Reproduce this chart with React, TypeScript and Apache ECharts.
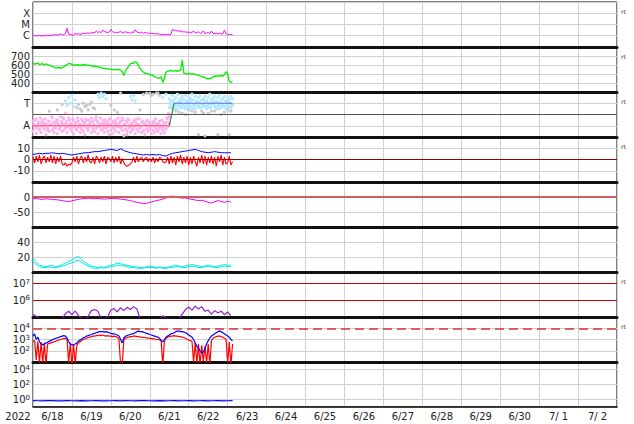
import React, { useEffect, useRef } from "react";
import * as echarts from "echarts";

// ---------- axis text ----------
const DAY_LABELS = ["6/18", "6/19", "6/20", "6/21", "6/22", "6/23", "6/24", "6/25", "6/26", "6/27", "6/28", "6/29", "6/30", "7/ 1", "7/ 2"];
const YEAR_LABEL = "2022";
const TOTAL_HOURS = 360; // 2022-06-18 00UT .. 2022-07-03 00UT
const RT_PANELS = [0, 1, 2, 3, 6, 7];

// ---------- data (hours since 2022-06-18 00UT) ----------
// X-ray flux, hourly, in units of 1e-6 W/m2 (C1 = 1)
const xrayC = [1.0, 1.05, 0.95, 1.0, 1.1, 0.95, 1.0, 0.95, 1.15, 1.0, 1.1, 0.98, 1.25, 1.05, 1.35, 1.1, 1.25, 1.5, 1.25, 1.2, 1.6, 4.5, 1.4, 1.25, 1.2, 1.05, 1.7, 1.35, 1.55, 1.3, 1.45, 1.7, 1.45, 1.8, 1.55, 1.9, 1.65, 2.1, 1.75, 2.7, 1.95, 2.3, 1.85, 3.1, 2.4, 2.15, 1.85, 2.1, 3.6, 2.3, 2.05, 1.85, 1.9, 2.05, 2.5, 1.85, 1.9, 2.4, 1.85, 1.9, 1.65, 2.2, 1.85, 3.4, 2.1, 1.95, 1.75, 2.1, 1.65, 1.95, 1.75, 1.65, 1.75, 1.55, 1.6, 1.5, 1.45, 1.55, 1.3, 1.25, 1.35, 1.2, 1.25, 1.3, 1.2, 1.35, 3.9, 2.7, 3.1, 2.5, 2.8, 2.25, 2.6, 2.05, 2.3, 1.95, 2.2, 1.75, 2.1, 2.5, 1.85, 1.9, 2.3, 1.65, 1.85, 2.7, 1.65, 1.7, 2.0, 1.55, 2.6, 1.65, 1.55, 1.7, 1.45, 1.65, 1.4, 1.55, 3.1, 1.55, 1.3, 1.2, 1.35, 1.2];
// Solar wind speed km/s, hourly
const windSpeed = [619, 608, 618, 622, 606, 610, 614, 600, 612, 604, 598, 592, 582, 578, 566, 570, 574, 562, 572, 578, 594, 602, 618, 616, 606, 598, 602, 600, 604, 592, 604, 596, 607, 594, 601, 592, 592, 582, 590, 578, 585, 572, 572, 562, 562, 558, 560, 552, 557, 548, 552, 550, 546, 552, 542, 528, 482, 532, 562, 588, 612, 622, 618, 638, 628, 598, 562, 538, 522, 508, 506, 498, 497, 488, 482, 468, 464, 455, 457, 468, 405, 452, 522, 528, 538, 536, 532, 533, 540, 528, 537, 538, 655, 508, 507, 498, 507, 498, 500, 500, 497, 488, 487, 478, 472, 462, 462, 447, 447, 448, 457, 468, 477, 475, 482, 474, 484, 476, 492, 525, 500, 415, 410, 412];
// IMF sector: hourly scatter (A = -1 side, T = +1 side)
const sectorAwayA = [-0.6, -1.1, -0.4, -0.9, -1.3, -0.7, -0.5, -1.0, -0.8, -1.4, -0.6, -0.9, -0.3, -1.2, -0.7, -0.5, -1.0, -0.2, -0.8, -0.4, 0.1, -0.6, -0.3, -0.9, -1.1, -0.5, -0.8, -1.3, -0.6, -0.9, -0.4, -1.0, -0.7, -0.5, -1.2, -0.8, -0.3, -0.6, -1.0, -0.2, -0.7, -0.9, -1.4, -0.5, -0.8, -0.6, -1.1, -0.4, -0.9, -0.7, -1.2, -0.5, -0.8, -1.0, -0.6, -0.3, -0.9, -1.3, -0.7, -0.5, -1.1, -0.8, -0.6, -1.0, -0.4, -0.9, -1.2, -0.7, -1.5, -0.8, -0.6, -1.0, -1.3, -0.9, -0.7, -1.1, -0.8, -1.4, -0.6, -1.0, -1.2, -0.9, -0.7, -0.4, -0.2];
const sectorAwayB = [-1.5, -1.2, -1.7, -1.0, -1.4, -1.6, -1.1, -1.3, -1.8, -1.2, -1.5, -1.0, -1.4, -1.6, -1.2, -1.7, -1.3, -1.1, -1.5, -1.4, -1.2, -1.6, -1.0, -1.3, -1.5, -1.7, -1.2, -1.4, -1.1, -1.6, -1.3, -1.5, -1.8, -1.2, -1.4, -1.0, -1.6, -1.3, -1.5, -1.2, -1.7, -1.1, -1.4, -1.3, -1.6, -1.2, -1.5, -1.0, -1.4, -1.7, -1.3, -1.5, -1.1, -1.6, -1.2, -1.4, -1.8, -1.3, -1.5, -1.2, -1.6, -1.4, -1.1, -1.7, -1.3, -1.5, -1.2, -1.6, -1.4, -1.8, -1.3, -1.5, -1.2, -1.7, -1.4, -1.6, -1.3, -1.5, -1.2, -1.7, -1.4, -1.6, -1.3, -1.1, -0.8];
const sectorAwayC = [-0.9, -0.5, -1.2, -0.7, -0.3, -1.0, -0.8, -0.4, -1.1, -0.6, -0.9, -0.2, -0.7, -1.0, -0.5, -0.8, -1.3, -0.6, -0.3, -0.9, -0.7, -1.1, -0.5, -0.8, -0.4, -1.0, -0.7, -0.3, -0.9, -1.2, -0.6, -0.8, -0.4, -1.0, -0.5, -0.7, -1.1, -0.9, -0.4, -0.6, -1.0, -0.3, -0.8, -1.2, -0.5, -0.9, -0.7, -0.4, -1.1, -0.6, -0.8, -1.0, -0.3, -0.7, -1.2, -0.5, -0.9, -0.6, -0.4, -1.0, -0.8, -1.3, -0.5, -0.7, -0.9, -0.4, -1.1, -0.6, -0.8, -1.0, -0.5, -0.7, -1.2, -0.9, -0.6, -0.4, -1.0, -0.8, -1.1, -0.5, -0.7, -0.9, -0.3, 0.1];
const towardStartHour = 84;
const sectorTowardA = [0.6, 0.9, 0.5, 1.0, 0.7, 0.4, 0.8, 1.1, 0.6, 0.9, 0.5, 0.8, 1.0, 0.6, 0.7, 0.9, 0.5, 1.1, 0.8, 0.6, 0.9, 0.7, 1.0, 0.5, 0.8, 0.6, 0.9, 1.1, 0.7, 0.5, 0.8, 1.0, 0.6, 0.9, 0.7, 0.5, 0.8, 1.0, 0.6, 0.8];
const sectorTowardB = [1.4, 1.2, 1.7, 1.3, 1.5, 1.8, 1.2, 1.4, 1.6, 1.3, 1.7, 1.2, 1.5, 1.4, 1.8, 1.3, 1.6, 1.2, 1.5, 1.7, 1.3, 1.4, 1.6, 1.2, 1.5, 1.8, 1.3, 1.4, 1.6, 1.2, 1.5, 1.7, 1.3, 1.4, 1.6, 1.2, 1.5, 1.3, 1.6, 1.4];
const sectorTowardC = [1.0, 0.7, 1.2, 0.5, 0.9, 1.1, 0.6, 0.8, 1.3, 0.7, 1.0, 0.6, 0.9, 1.2, 0.5, 0.8, 1.0, 0.7, 1.1, 0.6, 0.9, 1.3, 0.7, 0.8, 1.0, 0.6, 1.2, 0.9, 0.7, 1.1, 0.5, 0.8, 1.0, 0.7, 1.2, 0.9, 0.6, 1.0, 0.8];
const sectorTowardEarly = [[20, 1.2], [21, 0.8], [22, 1.5], [23, 1.0], [24, 1.7], [25, 0.7], [26, 1.3], [40, 1.8], [41, 1.5], [42, 1.9], [43, 1.6], [44, 1.8], [45, 1.4], [60, 1.6], [61, 1.3], [62, 1.7], [63, 1.2], [80, 1.5], [82, 1.8]];
const sectorOther = [[10, 0.3], [15, 0.4], [18, 0.9], [27, 0.6], [28, 0.9], [29, 0.5], [30, 0.3], [31, 1.0], [32, 0.7], [33, 0.8], [34, 0.4], [35, 0.9], [36, 1.1], [37, 0.6], [38, 0.5], [47, -1.8], [48, 0.8], [50, 0.4], [52, 0.2], [54, 1.9], [56, -1.9], [58, -1.8], [66, 0.4], [68, 1.8], [70, 1.9], [72, 1.9], [73, 1.7], [74, 1.8], [76, 1.9], [77, 1.9], [78, 1.7], [88, 0.3], [90, 0.2], [92, 0.1], [94, 0.0], [96, 0.4], [98, 0.3], [100, 0.2], [102, -1.8], [104, 0.3], [105, 0.1], [106, -1.9], [108, 0.1], [110, 0.3], [112, 0.3], [114, -1.8], [116, 0.0], [118, 0.2], [120, 0.4], [121, -1.8], [122, 0.3]];
const sectorAwayLine = [[0, -1], [84, -1]];
const sectorShiftLine = [[84, -1], [87, 1]];
const sectorTowardLine = [[87, 1], [123, 1]];
// IMF |B| (2-hourly) and Bz (hourly), nT
const imfBt = [4.5, 5, 5.5, 5, 5.5, 5.5, 6, 5.5, 5, 5.5, 5, 4.5, 4, 4.5, 5, 5.5, 6, 6, 6.5, 7, 7, 7.5, 8, 8.5, 9, 8.5, 8, 9.5, 8, 7, 6, 5.5, 5, 4.5, 4, 4.5, 4, 4.5, 4, 4.5, 3.5, 3, 4.5, 5.5, 6, 6.5, 7, 7.5, 8, 8.5, 9, 8, 7, 6.5, 6, 6.5, 7, 6.5, 6, 6, 6, 6];
const imfBz = [2, -3, 3, -2, 4, -4, 1, 3, -3, 2, -2, 4, -3, 3, -4, 2, -2, 3, -4, -5, -3, -6, -4, -5, -3, 2, -2, 3, -4, 1, 3, -3, 2, -2, 4, -2, -3, 2, -4, 3, 1, -3, 2, -2, 3, -4, 2, 1, -2, 3, -3, 2, -2, 3, -4, 1, -3, -5, -6, -5, -4, -2, 2, -3, 3, -2, 1, 2, -2, 1, 2, -2, 1, -2, 2, -3, 1, -2, 2, 1, -2, -3, -2, 2, -4, 3, -3, 2, -5, 3, -2, 4, -4, 2, -3, 3, -5, 2, -4, 3, -2, -6, 2, -3, 4, -4, 3, -5, 2, -3, 3, -4, 2, -6, 3, -2, 4, -5, 2, -4, -3, 3, -5, -2];
// Dst index (2-hourly), nT
const dst = [-6, -5, -7, -8, -6, -7, -8, -9, -10, -12, -14, -15, -13, -10, -8, -6, -5, -4, -5, -6, -5, -6, -7, -6, -5, -4, -6, -7, -8, -10, -12, -15, -18, -20, -22, -21, -18, -15, -12, -10, -7, -3, 2, 3, -1, -2, -4, -3, -6, -8, -10, -12, -11, -14, -18, -20, -16, -12, -15, -18, -14, -17];
// Panel 6 two cyan traces (2-hourly)
const cyanA = [18, 14, 9, 8, 7, 8, 9, 7, 8, 10, 12, 14, 16, 19, 21, 17, 13, 10, 8, 7, 6, 7, 6, 8, 9, 10, 12, 11, 10, 9, 8, 7, 7, 6, 6, 7, 8, 7, 6, 7, 6, 6, 7, 8, 9, 8, 7, 8, 9, 10, 9, 8, 7, 8, 9, 8, 7, 8, 9, 10, 9, 9];
const cyanB = [14, 10, 7, 6, 6, 7, 6, 6, 7, 8, 9, 11, 12, 14, 16, 13, 10, 8, 6, 5, 5, 6, 5, 6, 7, 8, 9, 9, 8, 7, 6, 6, 5, 5, 5, 6, 6, 6, 5, 6, 5, 5, 6, 6, 7, 7, 6, 6, 7, 8, 7, 6, 6, 7, 7, 7, 6, 6, 7, 8, 7, 7];
// Electron fluence (2-hourly)
const electronFluence = [1.4e5, 1.1e5, 0.8e5, 0.8e5, 0.8e5, 0.8e5, 0.8e5, 0.8e5, 0.8e5, 0.8e5, 1.6e5, 2.2e5, 1.4e5, 2.3e5, 1.2e5, 0.9e5, 0.8e5, 1.1e5, 2.4e5, 2.8e5, 2.2e5, 0.8e5, 0.8e5, 1.0e5, 2.6e5, 3.2e5, 2.0e5, 3.6e5, 2.4e5, 3.8e5, 2.8e5, 4.2e5, 3.0e5, 0.8e5, 0.8e5, 0.8e5, 0.8e5, 0.8e5, 0.8e5, 0.8e5, 1.2e5, 0.9e5, 0.8e5, 0.8e5, 0.8e5, 0.8e5, 1.5e5, 2.8e5, 4.0e5, 2.6e5, 4.5e5, 3.0e5, 4.2e5, 2.2e5, 2.6e5, 1.5e5, 2.4e5, 1.8e5, 2.2e5, 1.4e5, 2.0e5, 1.2e5];
// Electron flux, two satellites (hourly)
const electronBlue = [2000, 3200, 1000, 1600, 630, 400, 350, 400, 500, 560, 710, 790, 1000, 1100, 1300, 1400, 1600, 1800, 2000, 2200, 2000, 1300, 630, 400, 320, 350, 400, 500, 710, 890, 1100, 1400, 1600, 2000, 2200, 2500, 2800, 3200, 3500, 4000, 4500, 5000, 5000, 5000, 4500, 5000, 4500, 4000, 3500, 3200, 3200, 2800, 2500, 2000, 1000, 500, 1300, 2000, 2200, 2500, 2800, 3200, 3200, 4000, 5000, 5600, 5000, 5000, 4500, 4000, 3500, 3200, 2800, 2500, 2200, 2000, 1800, 1600, 1300, 790, 630, 1000, 1600, 2000, 2500, 3200, 3500, 4000, 5000, 5600, 5600, 5000, 5000, 4500, 4000, 3200, 2500, 2000, 1600, 1000, 500, 250, 160, 100, 63, 79, 160, 400, 790, 1300, 2000, 2500, 3200, 4000, 5000, 5600, 5000, 4000, 3200, 2500, 2000, 1600, 1000, 790];
const electronRed = [630, 800, 15, 700, 8, 600, 8, 500, 5, 400, 450, 500, 560, 630, 700, 800, 900, 1000, 1100, 1200, 1300, 1000, 8, 500, 5, 400, 6, 300, 500, 630, 800, 1000, 1100, 1300, 1500, 1600, 1800, 2000, 2000, 2200, 2200, 2500, 2200, 2500, 2200, 2000, 2200, 2000, 2000, 1800, 2000, 1800, 1600, 1000, 6, 5, 1000, 1300, 1500, 1600, 1800, 1800, 2000, 2000, 1800, 1800, 1600, 1600, 1500, 1500, 1400, 1300, 1300, 1200, 1200, 1100, 1000, 1000, 900, 800, 5, 800, 1300, 1600, 1800, 2000, 2000, 2200, 2000, 2000, 1800, 1800, 1600, 1500, 1300, 1000, 900, 800, 700, 10, 500, 8, 400, 6, 300, 12, 250, 8, 400, 6, 800, 1300, 1600, 1800, 2000, 2000, 1800, 1600, 1300, 1000, 8, 600, 5, 400];
// Proton flux (3-hourly)
const protonFlux = [0.7, 0.68, 0.65, 0.7, 0.72, 0.66, 0.64, 0.7, 0.68, 0.66, 0.7, 0.65, 0.68, 0.7, 0.66, 0.64, 0.68, 0.7, 0.66, 0.7, 0.68, 0.65, 0.7, 0.72, 0.68, 0.66, 0.7, 0.65, 0.68, 0.7, 0.66, 0.68, 0.7, 0.65, 0.68, 0.7, 0.66, 0.68, 0.7, 0.66, 0.68, 0.7];

// ---------- helpers ----------
const FONT = "DejaVu Sans";
const TXT = "#222";
const seq = (vals: number[], step: number, start = 0, scale = 1) => vals.map((v, i) => [start + i * step, v * scale]);

const powLabel = (v: number) => `{b|10}{s|${Math.round(Math.log10(v))}}`;
const RICH = {
  b: { fontSize: 10, fontFamily: FONT, color: TXT, lineHeight: 11 },
  s: { fontSize: 7, fontFamily: FONT, color: TXT, lineHeight: 6, verticalAlign: "top" },
};

function buildOption() {
  const N = 9;
  const grids = Array.from({ length: N }, (_, i) => ({
    left: 33, top: 2 + 45 * i, width: 584, height: 45,
    show: true, borderColor: "#000", borderWidth: 1, backgroundColor: "transparent",
  }));
  const xAxes: any[] = Array.from({ length: N }, (_, i) => ({
    type: "value", gridIndex: i, min: 0, max: TOTAL_HOURS, interval: 24,
    axisLabel: { show: false }, axisTick: { show: false },
    axisLine: { show: true, onZero: false, lineStyle: { color: "#111", width: i < N - 1 ? 3 : 1.5 } },
    splitLine: { show: true, lineStyle: { color: "#d0d0d0", width: 1 } },
  }));
  xAxes.push({
    type: "category", gridIndex: N - 1, data: DAY_LABELS, boundaryGap: true, position: "bottom",
    axisLine: { show: false }, axisTick: { show: false }, splitLine: { show: false },
    axisLabel: { interval: 0, fontFamily: FONT, fontSize: 10, color: TXT, margin: 4 },
  });
  const split = { show: true, lineStyle: { color: "#d0d0d0", width: 1 } };
  const lab = (formatter: any, extra: any = {}) => ({ fontFamily: FONT, fontSize: 10, color: TXT, margin: 3, lineHeight: 9, formatter, ...extra });
  const base = (i: number) => ({ gridIndex: i, axisLine: { show: false }, axisTick: { show: false }, splitLine: split });
  const yAxes: any[] = [
    { ...base(0), type: "log", logBase: 10, min: 1e-7, max: 1e-3,
      axisLabel: lab((v: number) => ({ "-6": "C", "-5": "M", "-4": "X" } as any)[String(Math.round(Math.log10(v)))] || "") },
    { ...base(1), type: "value", min: 300, max: 800, interval: 100,
      axisLabel: lab((v: number) => (v > 300 && v < 800 ? String(v) : "")) },
    { ...base(2), type: "value", min: -2, max: 2, interval: 1,
      axisLabel: lab((v: number) => (v === 1 ? "T" : v === -1 ? "A" : "")) },
    { ...base(3), type: "value", min: -20, max: 20, interval: 10,
      axisLabel: lab((v: number) => (Math.abs(v) < 20 ? String(v) : "")) },
    { ...base(4), type: "value", min: -100, max: 50, interval: 50,
      axisLabel: lab((v: number) => (v === 0 || v === -50 ? String(v) : "")) },
    { ...base(5), type: "value", min: 0, max: 60, interval: 20,
      axisLabel: lab((v: number) => (v === 20 || v === 40 ? String(v) : "")) },
    { ...base(6), type: "log", logBase: 10, min: 1e5, max: 5e7,
      axisLabel: lab((v: number) => { const e = Math.round(Math.log10(v)); return e === 6 || e === 7 ? powLabel(v) : ""; }, { rich: RICH }) },
    { ...base(7), type: "log", logBase: 10, min: 1e1, max: 1e5,
      axisLabel: lab((v: number) => { const e = Math.round(Math.log10(v)); return e >= 2 && e <= 4 ? powLabel(v) : ""; }, { rich: RICH }) },
    { ...base(8), type: "log", logBase: 10, min: 1e-1, max: 1e5, splitLine: { show: false }, axisLabel: { show: false } },
    // exponent-space companion axis for panel 9 grid lines / labels (every 2 decades)
    { ...base(8), type: "value", min: -1, max: 5, splitNumber: 3, position: "left",
      axisLabel: lab((e: number) => { const r = Math.round(e); return r === 0 || r === 2 || r === 4 ? `{b|10}{s|${r}}` : ""; }, { rich: RICH }) },
  ];

  const line = (xi: number, yi: number, data: any[], color: string, width = 1, extra: any = {}) => ({
    type: "line", xAxisIndex: xi, yAxisIndex: yi, data, showSymbol: false, symbol: "none",
    lineStyle: { color, width }, itemStyle: { color }, silent: true, ...extra,
  });
  const hline = (value: number, color: string, width: number, type: any = "solid") => ({
    silent: true, symbol: ["none", "none"], label: { show: false },
    lineStyle: { color, width, type }, data: [{ yAxis: value }],
  });
  const dots = (yi: number, data: any[], color: string, size = 3.2) => ({
    type: "scatter", xAxisIndex: yi, yAxisIndex: yi, data, symbolSize: size, silent: true,
    itemStyle: { color, opacity: 1 },
  });

  const series: any[] = [
    line(0, 0, seq(xrayC, 1, 0, 1e-6), "#ff00ff", 1),
    line(1, 1, seq(windSpeed, 1), "#00ee00", 1.3),
    dots(2, sectorOther, "#c8c8c8"),
    dots(2, seq(sectorAwayB, 1), "#ffb0ee"),
    dots(2, seq(sectorAwayA, 1), "#ffb0ee"),
    dots(2, seq(sectorAwayC, 1, 0.5), "#ffb0ee"),
    dots(2, sectorTowardEarly, "#b0e8ff"),
    dots(2, seq(sectorTowardA, 1, towardStartHour), "#b0e8ff"),
    dots(2, seq(sectorTowardB, 1, towardStartHour), "#b0e8ff"),
    dots(2, seq(sectorTowardC, 1, towardStartHour + 0.5), "#b0e8ff"),
    line(2, 2, sectorAwayLine, "#ff5050", 1.2, { markLine: hline(0, "#555", 1) }),
    line(2, 2, sectorShiftLine, "#3d8a3d", 1.2),
    line(2, 2, sectorTowardLine, "#6a6af0", 1.2),
    line(3, 3, seq(imfBz, 1), "#ff0000", 1.1, { markLine: hline(0, "#990000", 1) }),
    line(3, 3, seq(imfBt, 2), "#0000ff", 1),
    line(4, 4, seq(dst, 2), "#ee00ee", 1, { markLine: hline(0, "#cc6060", 2) }),
    line(5, 5, seq(cyanB, 2), "#00e8e8", 1),
    line(5, 5, seq(cyanA, 2), "#00e8e8", 1),
    line(6, 6, seq(electronFluence, 2), "#9922cc", 1.2, { markLine: { ...hline(1e7, "#cc0000", 1.2), data: [{ yAxis: 1e7 }, { yAxis: 1e6 }] } }),
    line(7, 7, seq(electronRed, 1), "#ff0000", 1.2, { markLine: hline(1e4, "#dd3333", 1.5, [9, 5]) }),
    line(7, 7, seq(electronBlue, 1), "#0000ff", 1.2),
    line(8, 8, seq(protonFlux, 3), "#0000ff", 1.2),
  ];

  const graphics: any[] = RT_PANELS.map((p) => ({
    type: "text", x: 621, y: 11 + 45 * p, silent: true,
    style: { text: "rt", fontSize: 6, fontFamily: FONT, fill: "#444", verticalAlign: "middle" },
  }));
  graphics.push({
    type: "text", x: 18, y: 416, silent: true,
    style: { text: YEAR_LABEL, fontSize: 10, fontFamily: FONT, fill: TXT, align: "center", verticalAlign: "middle" },
  });

  return {
    animation: false,
    backgroundColor: "#fff",
    grid: grids,
    xAxis: xAxes,
    yAxis: yAxes,
    series,
    graphic: graphics,
  };
}

export default function App() {
  const ref = useRef<HTMLDivElement>(null);
  useEffect(() => {
    const chart = echarts.init(ref.current as HTMLDivElement, null, { renderer: "svg" });
    chart.setOption(buildOption() as any);
    return () => chart.dispose();
  }, []);
  return <div ref={ref} style={{ position: "fixed", left: 0, top: 0, width: 634, height: 424, background: "#fff" }} />;
}
